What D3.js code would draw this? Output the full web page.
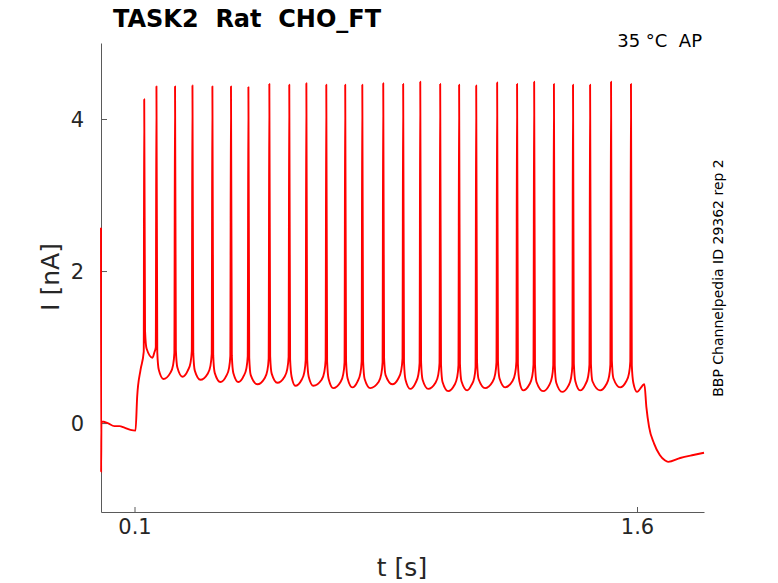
<!DOCTYPE html>
<html>
  <head>
    <meta charset="utf-8">
    <title>TASK2 Rat CHO_FT</title>
    <script src="https://d3js.org/d3.v7.min.js"></script>
    <style>
      body { margin: 0; background: #fff; }
      text { font-family: "DejaVu Sans", sans-serif; fill: #262626; white-space: pre; }
    </style>
  </head>
  <body>
    <svg id="chart" width="778" height="583"></svg>
    <script>
      // values
      // trace before the first spike: [t (s), I (nA)]
      preStim = [
        [0.0000, 2.57], [0.0004, -0.65], [0.0012, 0.02], [0.020, 0.00],
        [0.040, -0.04], [0.055, -0.04], [0.070, -0.06], [0.088, -0.09],
        [0.103, -0.10], [0.108, 0.35], [0.118, 0.70], [0.1276, 0.94]
      ];
      spikeTimes = [0.129, 0.1655, 0.221, 0.273, 0.3325, 0.388, 0.440, 0.5025, 0.562,
        0.613, 0.6725, 0.729, 0.780, 0.8425, 0.902, 0.953, 1.0125, 1.069, 1.120,
        1.1825, 1.242, 1.293, 1.352, 1.409, 1.460, 1.5225, 1.582];
      spikePeaks = [4.26, 4.43, 4.43, 4.44, 4.43, 4.43, 4.42, 4.46, 4.45, 4.47, 4.45,
        4.45, 4.45, 4.47, 4.46, 4.49, 4.46, 4.45, 4.44, 4.48, 4.46, 4.49, 4.46, 4.45,
        4.45, 4.49, 4.46];
      // minimum after each spike
      troughTimes = [0.1536, 0.1864, 0.2431, 0.2968, 0.3564, 0.4101, 0.4667, 0.5264,
        0.5801, 0.6338, 0.6934, 0.7501, 0.8038, 0.8694, 0.9231, 0.9768, 1.0364, 1.0931,
        1.1467, 1.2064, 1.2601, 1.3197, 1.3764, 1.4301, 1.4897, 1.5494, 1.6000];
      troughValues = [0.86, 0.58, 0.61, 0.57, 0.54, 0.54, 0.51, 0.53, 0.49, 0.49, 0.46,
        0.47, 0.46, 0.51, 0.45, 0.45, 0.42, 0.43, 0.46, 0.47, 0.43, 0.42, 0.41, 0.43,
        0.43, 0.47, 0.41];
      // end of the stimulus and recovery
      postStim = [
        [1.622, 0.51], [1.628, 0.21], [1.636, -0.05], [1.651, -0.27], [1.668, -0.42],
        [1.683, -0.49], [1.693, -0.51], [1.729, -0.46], [1.768, -0.42], [1.800, -0.39]
      ];
      xTicks = [0.1, 1.6];
      yTicks = [0, 2, 4];

      // shape of the trace around a spike (offsets in s, rise above the trough in nA)
      fallShape = [[0.0025, 0.35], [0.007, 0.12]];
      riseShape = [[-0.014, 0.08], [-0.006, 0.18], [-0.002, 0.34]];

      svg = d3.select("#chart");
      x = d3.scaleLinear().domain([0, 1.8]).range([101, 704]);
      y = d3.scaleLinear().domain([-1.17, 5.0]).range([512, 43]);

      // assemble the trace from the key values
      trace = preStim.slice();
      spikeTimes.forEach(function(ts, i) {
        var tt = troughTimes[i], vt = troughValues[i];
        trace.push([ts, spikePeaks[i]]);
        fallShape.forEach(function(s) { trace.push([ts + s[0], vt + s[1]]); });
        trace.push([tt, vt]);
        if (i < spikeTimes.length - 1) {
          var tn = spikeTimes[i + 1];
          var k = Math.min(1, (tn - tt) / 0.03);
          riseShape.forEach(function(s) {
            if (tn + s[0] > tt + 0.001) trace.push([tn + s[0], vt + s[1] * k]);
          });
        }
      });
      trace = trace.concat(postStim);

      line = d3.line()
        .x(function(d) { return x(d[0]); })
        .y(function(d) { return y(d[1]); })
        .curve(d3.curveMonotoneX);

      // axes
      xAxis = svg.append("g")
        .attr("transform", "translate(0,512)")
        .call(d3.axisBottom(x).tickValues(xTicks).tickSizeInner(-5).tickSizeOuter(0)
          .tickPadding(22).tickFormat(d3.format(".1f")));
      yAxis = svg.append("g")
        .attr("transform", "translate(101,0)")
        .call(d3.axisLeft(y).tickValues(yTicks).tickSizeInner(-6).tickSizeOuter(0)
          .tickPadding(17).tickFormat(d3.format("d")));
      svg.selectAll(".domain, .tick line").attr("stroke", "#5a5a5a");
      svg.selectAll(".tick text")
        .attr("font-family", "DejaVu Sans")
        .attr("font-size", 21)
        .attr("fill", "#262626");
      xAxis.selectAll(".tick text").attr("dy", 0);
      yAxis.selectAll(".tick text").attr("dy", "0.36em");

      svg.append("path")
        .datum(trace)
        .attr("d", line)
        .attr("fill", "none")
        .attr("stroke", "#ff0000")
        .attr("stroke-width", 1.9)
        .attr("stroke-linejoin", "round");

      // labels
      svg.append("text")
        .attr("x", 113).attr("y", 27)
        .attr("font-size", 24).attr("font-weight", "bold")
        .style("fill", "#000")
        .text("TASK2  Rat  CHO_FT");
      svg.append("text")
        .attr("x", 702).attr("y", 47)
        .attr("text-anchor", "end")
        .attr("font-size", 18)
        .style("fill", "#000")
        .text("35 °C  AP");
      svg.append("text")
        .attr("transform", "translate(723,278) rotate(-90)")
        .attr("text-anchor", "middle")
        .attr("font-size", 14)
        .style("fill", "#000")
        .text("BBP Channelpedia ID 29362 rep 2");
      svg.append("text")
        .attr("x", 402).attr("y", 576)
        .attr("text-anchor", "middle")
        .attr("font-size", 25)
        .text("t [s]");
      svg.append("text")
        .attr("transform", "translate(59,277) rotate(-90)")
        .attr("text-anchor", "middle")
        .attr("font-size", 25)
        .text("I [nA]");
    </script>
  </body>
</html>
